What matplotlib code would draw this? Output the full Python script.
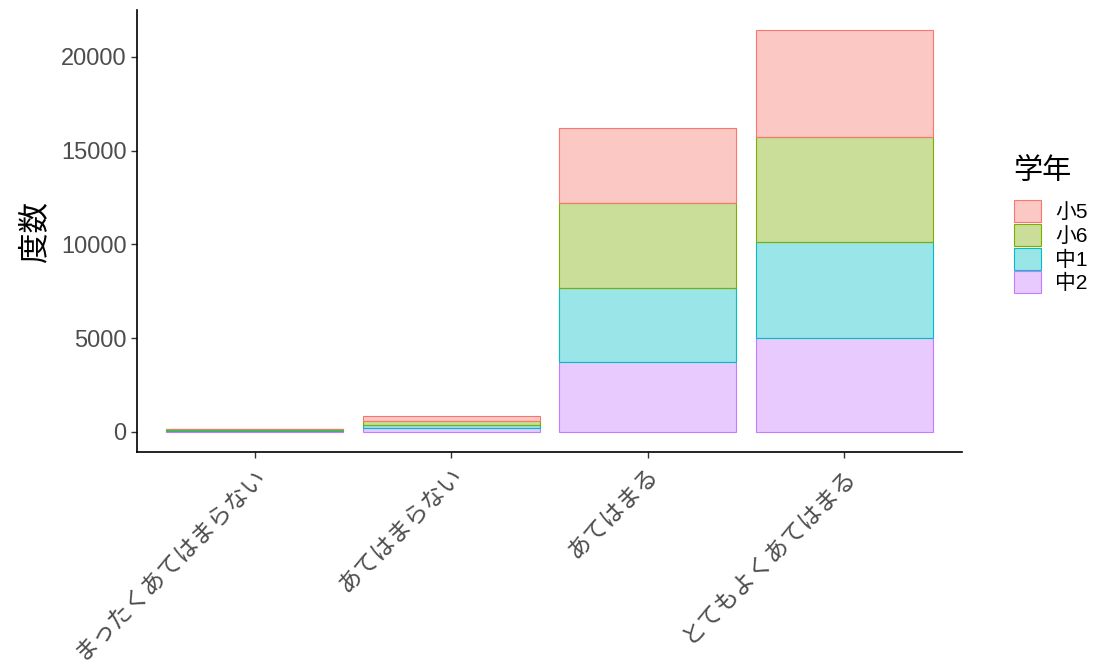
import numpy as np
import matplotlib.pyplot as plt
from matplotlib.colors import to_rgba

plt.rcParams['font.family'] = ['Liberation Sans', 'Noto Sans CJK JP', 'DejaVu Sans']

# answers and grade counts (stack order bottom -> top: 中2, 中1, 小6, 小5)
answers = ['まったくあてはまらない', 'あてはまらない', 'あてはまる', 'とてもよくあてはまる']
grades = ['小5', '小6', '中1', '中2']
counts_s5 = [45, 250, 4000, 5700]
counts_s6 = [50, 240, 4530, 5600]
counts_c1 = [40, 170, 3950, 5120]
counts_c2 = [45, 190, 3730, 5010]
colors = ['#F8766D', '#7CAE00', '#00BFC4', '#C77CFF']

fig = plt.figure(figsize=(10.94, 6.64), dpi=100)
ax = fig.add_axes([137 / 1094, 1 - 452 / 664, 825 / 1094, 442 / 664])

x = np.arange(len(answers))
series = [counts_s5, counts_s6, counts_c1, counts_c2]
bottom = np.zeros(len(answers))
handles = {}
for name, vals, col in reversed(list(zip(grades, series, colors))):
    b = ax.bar(x, vals, width=0.9, bottom=bottom, facecolor=to_rgba(col, 0.4),
               edgecolor=col, linewidth=0.8)
    handles[name] = b
    bottom += np.array(vals)

total = bottom.max()
ax.set_xlim(-0.6, len(answers) - 0.4)
ax.set_ylim(-total * 0.05, total * 1.05)
ax.set_yticks([0, 5000, 10000, 15000, 20000])
ax.set_xticks(x)
ax.set_xticklabels(answers, rotation=45, ha='right', rotation_mode='anchor')
ax.tick_params(axis='both', colors='#333333', labelcolor='#4D4D4D', labelsize=17,
               length=4, width=1)
ax.tick_params(axis='x', labelsize=17, pad=5)
for s in ['top', 'right']:
    ax.spines[s].set_visible(False)
for s in ['left', 'bottom']:
    ax.spines[s].set_linewidth(1.2)
ax.set_ylabel('度数', fontsize=22, labelpad=8)

leg = ax.legend([handles[g] for g in grades], grades, title='学年',
                loc='upper left', bbox_to_anchor=(1.04, 0.71), frameon=False,
                fontsize=15, title_fontsize=21, handlelength=1.3, handleheight=1.25,
                labelspacing=0.08, handletextpad=0.7, alignment='left')
leg._legend_box.sep = 11

fig.savefig('out.png', dpi=100)
